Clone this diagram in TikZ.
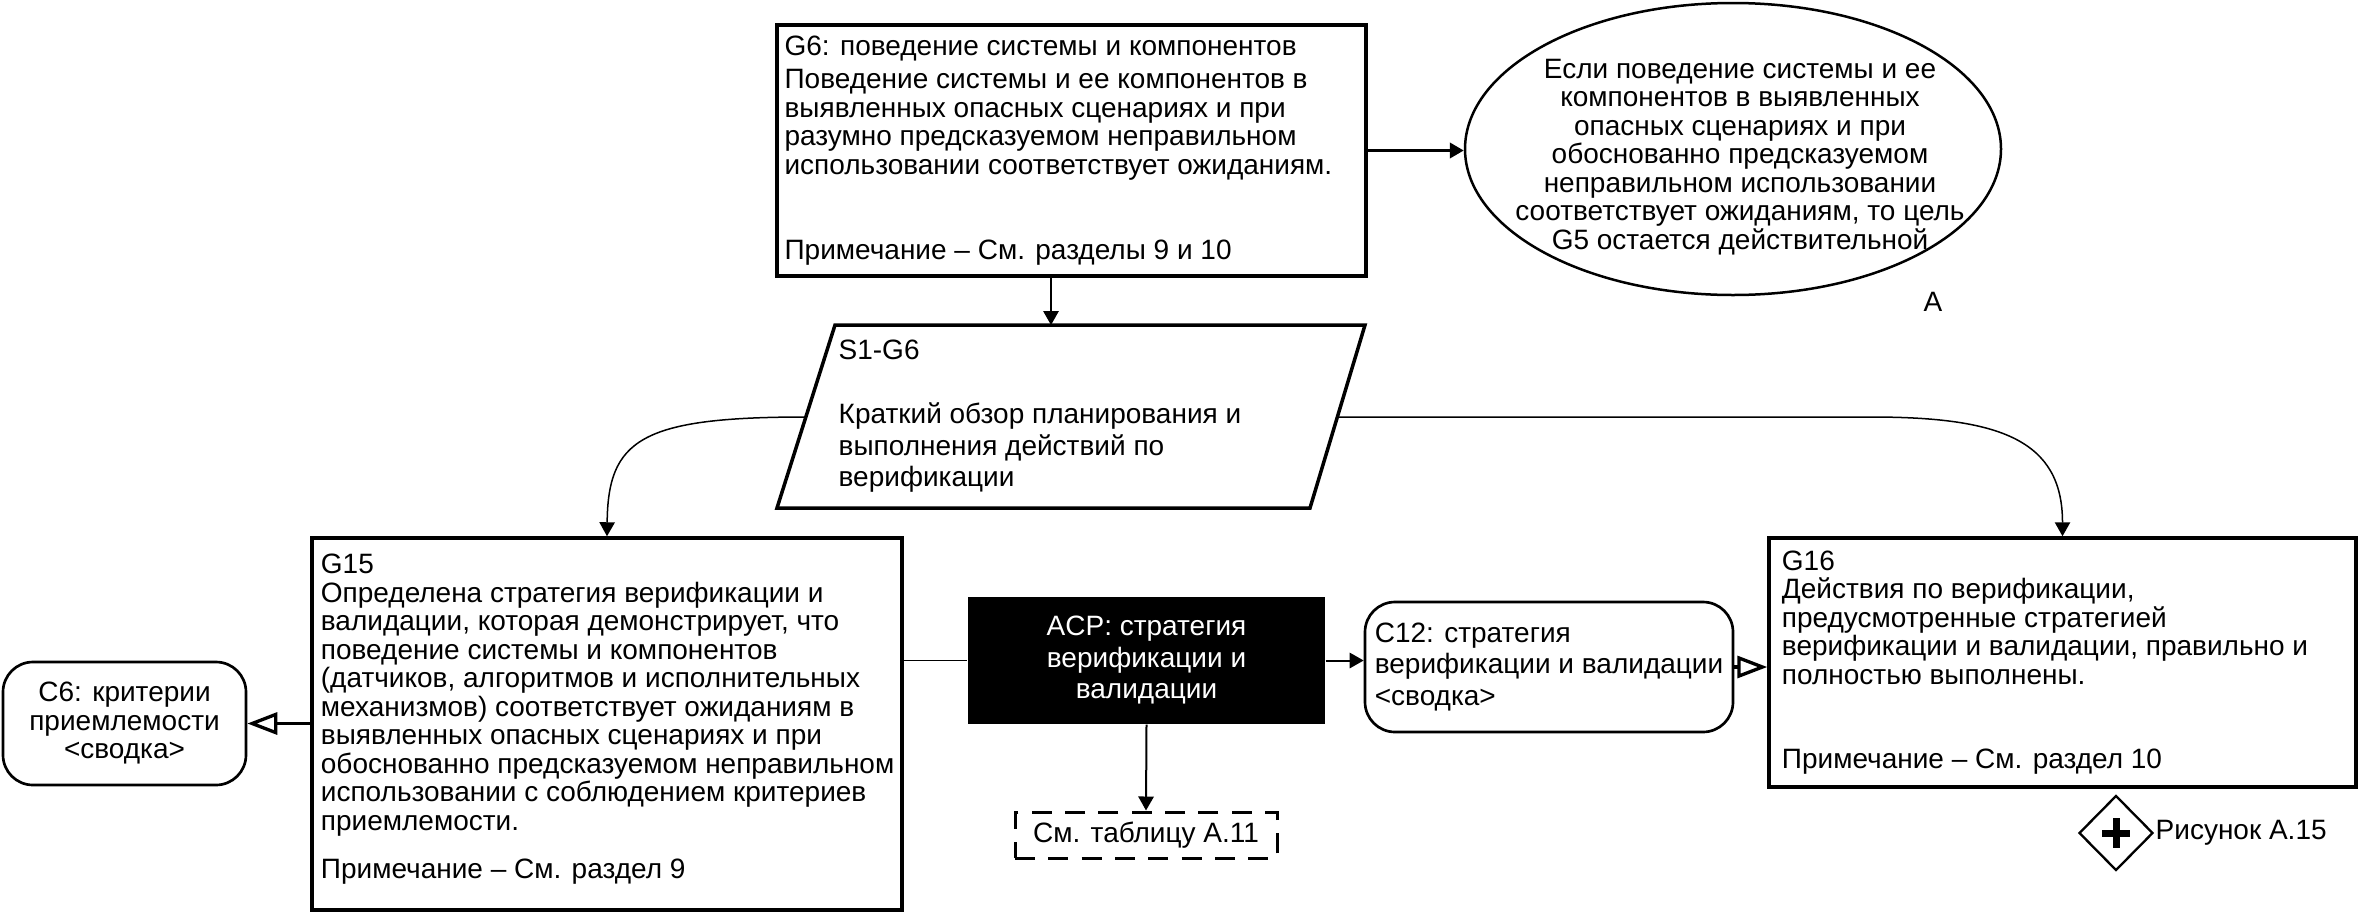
\documentclass[tikz,border=0pt]{standalone}
\usepackage{fontspec}
\setmainfont{Liberation Sans}
\usetikzlibrary{arrows.meta,shapes.geometric,calc}
\begin{document}
\begin{tikzpicture}[x=0.3pt,y=-0.3pt,
  txt/.style={font=\fontsize{8.4pt}{8.55pt}\selectfont, inner sep=0pt, align=left},
  goalbox/.style={draw, line width=1.05pt, rectangle, inner sep=0pt},
  ctxbox/.style={draw, line width=0.8pt, rounded corners=9pt},
  conn/.style={line width=0.6pt},
  arr/.style={conn, -{Triangle[length=4.2pt,width=4.6pt]}},
  openarr/.style={line width=1.1pt, -{Triangle[open,length=9pt,width=6.6pt,line width=1pt]}},
]
\useasboundingbox (0,0) rectangle (2362,913);

% G6
\node[goalbox, minimum width=176.7pt, minimum height=75.3pt] (g6) at (1071.5,150.5) {};
\node[txt, anchor=west] (g6t) at ([xshift=2.6pt]g6.west) {G6: поведение системы и компонентов\\[1.35pt]
Поведение системы и ее компонентов в\\
выявленных опасных сценариях и при\\
разумно предсказуемом неправильном\\
использовании соответствует ожиданиям.\\[17pt]
Примечание – См. разделы 9 и 10};

% Ellipse
\node[draw, ellipse, line width=0.75pt, minimum width=160.8pt, minimum height=87.6pt, inner sep=0pt] (ell) at (1733,149) {};
\node[txt, align=center] (ellt) at (1740,157) {Если поведение системы и ее\\
компонентов в выявленных\\
опасных сценариях и при\\
обоснованно предсказуемом\\
неправильном использовании\\
соответствует ожиданиям, то цель\\
G5 остается действительной};
\node[txt] (lblA) at (1933,302) {А};

% S1-G6 parallelogram
\coordinate (s1tl) at (835,325);
\coordinate (s1tr) at (1365,325);
\coordinate (s1br) at (1310,508);
\coordinate (s1bl) at (777,508);
\coordinate (s1t) at (1051,325);
\coordinate (s1l) at (806,417);
\coordinate (s1r) at (1336,417);
\draw[line width=1.05pt, line join=miter] (s1tl) -- (s1tr) -- (s1br) -- (s1bl) -- cycle;
\node[txt, anchor=west] (s1) at (838,416.5) {S1-G6\\[10.65pt]
Краткий обзор планирования и\\[0.9pt]
выполнения действий по\\[0.9pt]
верификации};

% G15
\node[goalbox, minimum width=177pt, minimum height=111.6pt] (g15) at (607,724) {};
\node[txt, anchor=west] (g15t) at ([xshift=3pt,yshift=1.35pt]g15.west) {G15\\
Определена стратегия верификации и\\
валидации, которая демонстрирует, что\\
поведение системы и компонентов\\
(датчиков, алгоритмов и исполнительных\\
механизмов) соответствует ожиданиям в\\
выявленных опасных сценариях и при\\
обоснованно предсказуемом неправильном\\
использовании с соблюдением критериев\\
приемлемости.\\[6pt]
Примечание – См. раздел 9};

% G16
\node[goalbox, minimum width=176.1pt, minimum height=74.7pt] (g16) at (2062.5,662.5) {};
\node[txt, anchor=west] (g16t) at ([xshift=4.2pt]g16.west) {G16\\
Действия по верификации,\\
предусмотренные стратегией\\
верификации и валидации, правильно и\\
полностью выполнены.\\[16.6pt]
Примечание – См. раздел 10};

% C6
\node[ctxbox, txt, align=center, minimum width=72.9pt, minimum height=36.9pt] (c6) at (124.5,723.5) {C6: критерии\\приемлемости\\<сводка>};

% ACP
\node[fill=black, text=white, txt, align=center, minimum width=107.1pt, minimum height=38.1pt] (acp) at (1146.5,660.5) {ACP: стратегия\\[0.9pt]верификации и\\[0.9pt]валидации};

% C12
\node[ctxbox, txt, minimum width=110.4pt, minimum height=39pt] (c12) at (1549,667) {C12: стратегия\\[0.9pt]верификации и валидации\\[0.9pt]<сводка>};

% table ref
\node[draw, line width=0.9pt, dash pattern=on 6pt off 4pt, txt, minimum width=78.6pt, minimum height=13.8pt] (tbl) at (1146,835) {См. таблицу А.11};

% diamond
\node[draw, diamond, line width=0.7pt, minimum width=22.2pt, minimum height=22.5pt, inner sep=0pt] (dia) at (2116,833) {};
\draw[line width=2.1pt] ($(dia.center)+(-14,0)$) -- ($(dia.center)+(14,0)$);
\draw[line width=2.1pt] ($(dia.center)+(0,-15)$) -- ($(dia.center)+(0,15)$);
\node[txt, anchor=west] (fig) at (2155,833) {Рисунок А.15};

% connectors
\draw[arr, line width=0.9pt] (g6.east) -- (g6.east -| ell.west);
\draw[arr] (g6.south -| s1t) -- (s1t);
\draw[arr, line width=0.45pt] (s1l) .. controls (640,417) and (608,440) .. (g15.north);
\draw[arr, line width=0.45pt] (s1r) -- (1871,417) .. controls (2000,417) and (2062.5,440) .. (g16.north);
\draw[conn, line width=0.45pt] (g15.east |- acp.west) -- (acp.west);
\draw[arr] (acp.east) -- (acp.east -| c12.west);
\draw[openarr] (c12.east) -- (c12.east -| g16.west);
\draw[openarr] (g15.west |- c6.east) -- (c6.east);
\draw[arr] (acp.south) -- (tbl.north);
\end{tikzpicture}
\end{document}
